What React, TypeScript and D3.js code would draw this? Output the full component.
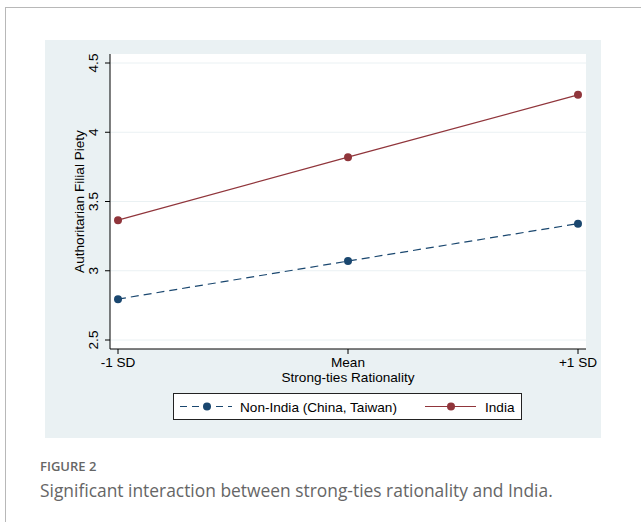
import React from "react";
import * as d3 from "d3";

const categories = ["-1 SD", "Mean", "+1 SD"];
const nonIndia = [2.795, 3.07, 3.34];
const india = [3.365, 3.82, 4.27];
const yTicks = [2.5, 3, 3.5, 4, 4.5];
const seriesNames = ["Non-India (China, Taiwan)", "India"];

const W = 641;
const H = 522;
const BLUE = "#1a476f";
const RED = "#90353b";
const PANEL = "#eaf1f3";
const FONT = "'Liberation Sans', Arial, sans-serif";
const FS = 13.6;

export default function App() {
  const plot = { left: 110, right: 586, top: 54, bottom: 349 };
  const x = d3.scalePoint<string>().domain(categories).range([118, 578]);
  const y = d3.scaleLinear().domain([2.5, 4.5]).range([340, 63]);
  const line = d3
    .line<[string, number]>()
    .x((d) => x(d[0]) as number)
    .y((d) => y(d[1]));
  const nData = categories.map((c, i) => [c, nonIndia[i]] as [string, number]);
  const iData = categories.map((c, i) => [c, india[i]] as [string, number]);

  return (
    <svg
      width={W}
      height={H}
      style={{ position: "absolute", left: 0, top: 0, background: "#fff" }}
      fontFamily={FONT}
    >
      {/* outer frame */}
      <line x1={5} y1={7.5} x2={W} y2={7.5} stroke="#b8b8b8" strokeWidth={1} />
      <line x1={5.5} y1={7} x2={5.5} y2={H} stroke="#b8b8b8" strokeWidth={1} />

      {/* graph region panel */}
      <rect x={45} y={40} width={556} height={398} fill={PANEL} />
      {/* plot region */}
      <rect
        x={plot.left}
        y={plot.top}
        width={plot.right - plot.left}
        height={plot.bottom - plot.top}
        fill="#fff"
      />
      {/* gridlines */}
      {yTicks.map((t) => (
        <line
          key={"g" + t}
          x1={plot.left}
          x2={plot.right}
          y1={y(t)}
          y2={y(t)}
          stroke={PANEL}
          strokeWidth={1}
        />
      ))}
      {/* y axis */}
      <line x1={plot.left} x2={plot.left} y1={plot.top} y2={plot.bottom} stroke="#000" strokeWidth={1} />
      {yTicks.map((t) => (
        <g key={"yt" + t}>
          <line x1={plot.left - 5} x2={plot.left} y1={y(t)} y2={y(t)} stroke="#000" />
          <text
            transform={`translate(${plot.left - 12},${y(t)}) rotate(-90)`}
            textAnchor="middle"
            fontSize={FS}
            fill="#000"
          >
            {String(t)}
          </text>
        </g>
      ))}
      <text
        transform={`translate(84,${(y(2.5) + y(4.5)) / 2}) rotate(-90)`}
        textAnchor="middle"
        fontSize={FS}
        fill="#000"
      >
        Authoritarian Filial Piety
      </text>
      {/* x axis */}
      <line x1={plot.left} x2={plot.right} y1={plot.bottom} y2={plot.bottom} stroke="#000" strokeWidth={1} />
      {categories.map((c) => (
        <g key={"xt" + c}>
          <line x1={x(c)} x2={x(c)} y1={plot.bottom} y2={plot.bottom + 5} stroke="#000" />
          <text x={x(c)} y={plot.bottom + 18} textAnchor="middle" fontSize={FS} fill="#000">
            {c}
          </text>
        </g>
      ))}
      <text x={(118 + 578) / 2} y={plot.bottom + 33} textAnchor="middle" fontSize={FS} fill="#000">
        Strong-ties Rationality
      </text>

      {/* series */}
      <path d={line(nData) || ""} fill="none" stroke={BLUE} strokeWidth={1.2} strokeDasharray="8,5" />
      <path d={line(iData) || ""} fill="none" stroke={RED} strokeWidth={1.2} />
      {nData.map((d, i) => (
        <circle key={"n" + i} cx={x(d[0])} cy={y(d[1])} r={4} fill={BLUE} />
      ))}
      {iData.map((d, i) => (
        <circle key={"i" + i} cx={x(d[0])} cy={y(d[1])} r={4} fill={RED} />
      ))}

      {/* legend */}
      <rect x={173.5} y={393.5} width={348} height={26} fill="#fff" stroke="#222" strokeWidth={1} />
      <line x1={180} x2={232} y1={406.5} y2={406.5} stroke={BLUE} strokeWidth={1.2} strokeDasharray="7,5" />
      <circle cx={207} cy={406.5} r={4} fill={BLUE} />
      <text x={240} y={411.5} fontSize={FS} fill="#000">
        {seriesNames[0]}
      </text>
      <line x1={425} x2={476} y1={406.5} y2={406.5} stroke={RED} strokeWidth={1.2} />
      <circle cx={451} cy={406.5} r={4} fill={RED} />
      <text x={485} y={411.5} fontSize={FS} fill="#000">
        {seriesNames[1]}
      </text>

      {/* caption */}
      <text x={40} y={471} fontSize={13} fontWeight={600} fill="#666" fontFamily="'Open Sans', sans-serif">
        FIGURE 2
      </text>
      <text x={40} y={497} fontSize={17.4} fill="#666" fontFamily="'Open Sans', sans-serif">
        Significant interaction between strong-ties rationality and India.
      </text>
    </svg>
  );
}
